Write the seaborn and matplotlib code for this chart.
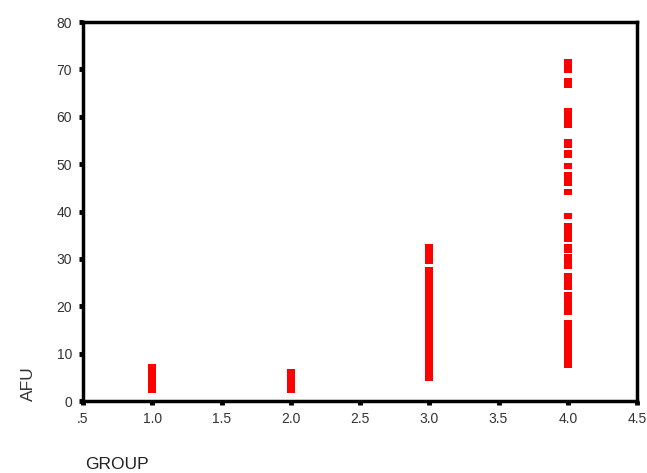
import matplotlib
matplotlib.use("Agg")
import matplotlib.pyplot as plt
import seaborn as sns
import pandas as pd
import numpy as np
from matplotlib.path import Path

group1 = [2.3, 3.2, 4.0, 4.6, 5.3, 6.0, 6.5, 7.1]
group2 = [2.3, 3.0, 3.9, 4.5, 5.2, 6.1]
group3 = [4.9, 5.8, 6.9, 7.7, 8.8, 9.6, 10.8, 11.5, 12.4, 13.6, 14.2, 15.3,
          16.1, 17.0, 17.9, 18.6, 19.5, 20.3, 21.2, 22.0, 22.9, 23.8, 24.7,
          25.4, 26.5, 27.1, 27.7, 29.6, 30.4, 31.3, 32.0, 32.5]
group4 = [71.5, 70.6, 69.8, 67.6, 66.7, 61.2, 60.3, 59.2, 58.3, 54.6, 54.0,
          52.3, 51.9, 49.7, 47.6, 46.8, 46.0, 44.2, 39.0, 36.9, 36.0, 35.0,
          34.1, 32.5, 31.9, 30.3, 29.4, 28.5, 26.4, 25.6, 24.8, 24.1, 22.4,
          21.5, 20.6, 19.7, 18.8, 16.4, 15.5, 14.6, 13.7, 12.8, 11.9, 11.0,
          10.1, 9.3, 8.5, 7.7]
groups = [1.0, 2.0, 3.0, 4.0]
x_ticks = [0.5, 1.0, 1.5, 2.0, 2.5, 3.0, 3.5, 4.0, 4.5]
x_tick_labels = [".5", "1.0", "1.5", "2.0", "2.5", "3.0", "3.5", "4.0", "4.5"]
y_ticks = [0, 10, 20, 30, 40, 50, 60, 70, 80]

rows = []
for g, vals in zip(groups, [group1, group2, group3, group4]):
    for v in vals:
        rows.append({"GROUP": g, "AFU": v})
df = pd.DataFrame(rows)

sns.set_style("white")
plt.rcParams["font.family"] = ["Liberation Sans", "DejaVu Sans"]

fig = plt.figure(figsize=(6.47, 4.73), dpi=100)
ax = fig.add_axes([83 / 647, 1 - 401 / 473, (637 - 83) / 647, (401 - 22) / 473])

rect = Path([(-0.65, -0.5), (0.65, -0.5), (0.65, 0.5), (-0.65, 0.5), (-0.65, -0.5)],
            [Path.MOVETO, Path.LINETO, Path.LINETO, Path.LINETO, Path.CLOSEPOLY])

sns.scatterplot(data=df, x="GROUP", y="AFU", ax=ax, marker=rect, s=32,
                color="#ff0000", linewidth=0, legend=False, zorder=3)

ax.set_xlim(0.5, 4.5)
ax.set_ylim(0, 80)
ax.set_xticks(x_ticks)
ax.set_xticklabels(x_tick_labels)
ax.set_yticks(y_ticks)
ax.set_xlabel("")
ax.set_ylabel("")
for s in ax.spines.values():
    s.set_visible(True)
    s.set_linewidth(2.5)
    s.set_color("black")
ax.tick_params(axis="both", direction="out", length=3, width=3.5, color="black",
               labelsize=10, labelcolor="#333333", pad=5, left=True, bottom=True)
ax.grid(False)

fig.text(28 / 647, 1 - 384 / 473, "AFU", rotation=90, ha="center", va="center",
         fontsize=12.5, color="#333333")
fig.text(85 / 647, 1 - 464 / 473, "GROUP", ha="left", va="center",
         fontsize=12.5, color="#222222")

fig.savefig("out.png", dpi=100)
